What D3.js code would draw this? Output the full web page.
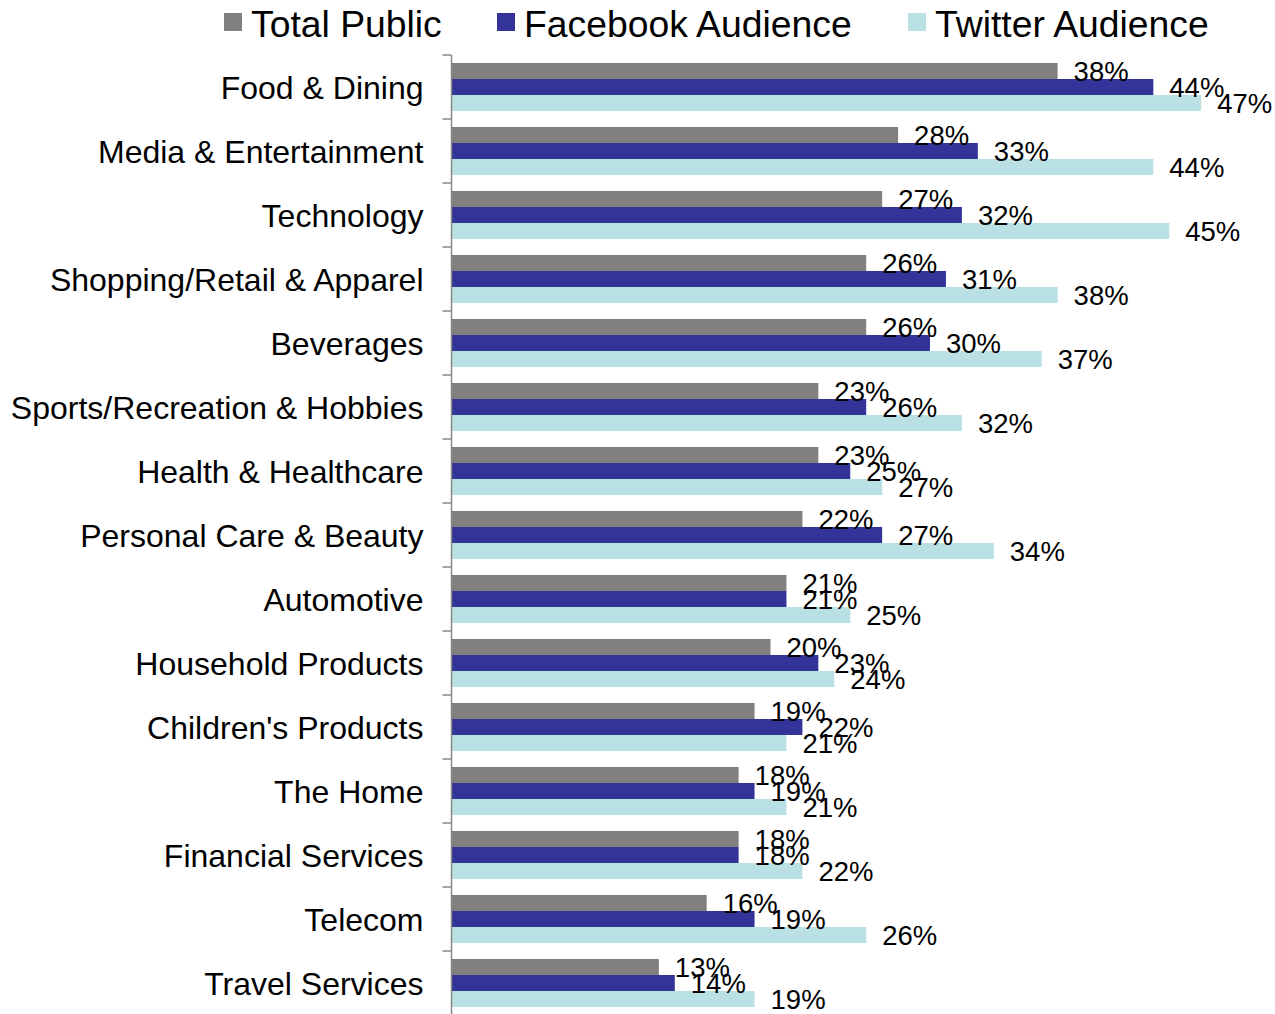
<!DOCTYPE html>
<html><head><meta charset="utf-8">
<script src="https://cdn.jsdelivr.net/npm/d3@7"></script>
<style>html,body{margin:0;padding:0;background:#fff;}svg{display:block;font-family:"Liberation Sans",Arial,sans-serif;}</style>
</head><body>
<svg id="c" width="1275" height="1014"></svg>
<script>
const categories = ["Food & Dining","Media & Entertainment","Technology","Shopping/Retail & Apparel","Beverages","Sports/Recreation & Hobbies","Health & Healthcare","Personal Care & Beauty","Automotive","Household Products","Children's Products","The Home","Financial Services","Telecom","Travel Services"];
const seriesNames = ["Total Public","Facebook Audience","Twitter Audience"];
const totalPublic = [38,28,27,26,26,23,23,22,21,20,19,18,18,16,13];
const facebookAudience = [44,33,32,31,30,26,25,27,21,23,22,19,18,19,14];
const twitterAudience = [47,44,45,38,37,32,27,34,25,24,21,21,22,26,19];
const seriesColors = ["#808080","#333399","#B9E0E3"];

const seriesValues = [totalPublic, facebookAudience, twitterAudience];
const svg = d3.select("#c");
const x0 = 451.5;
const x = d3.scaleLinear().domain([0,50]).range([x0, x0 + 50*15.95]);
const y = d3.scaleBand().domain(categories).range([55, 1015]).paddingInner(0).paddingOuter(0);
const ys = d3.scaleBand().domain(seriesNames).range([8, 56]);

// bars
const g = svg.append("g");
categories.forEach((c,i)=>{
  seriesNames.forEach((s,j)=>{
    const v = seriesValues[j][i];
    g.append("rect")
      .attr("x", x(0)).attr("y", y(c)+ys(s))
      .attr("width", x(v)-x(0)).attr("height", ys.bandwidth())
      .attr("fill", seriesColors[j]);
  });
});
// labels
categories.forEach((c,i)=>{
  seriesNames.forEach((s,j)=>{
    const v = seriesValues[j][i];
    g.append("text")
      .attr("x", x(v)+16).attr("y", y(c)+ys(s)+ys.bandwidth()/2 + 9.8)
      .attr("font-size", 27.5).attr("fill","#000")
      .text(v+"%");
  });
});

// axis
const axis = d3.axisLeft(y).tickSize(0).tickPadding(28);
const ag = svg.append("g").attr("transform",`translate(${x0},0)`).call(axis);
ag.select(".domain").attr("stroke","#888").attr("stroke-width",1.5).attr("d",`M0,55V1015`);
ag.selectAll(".tick text").attr("font-size",32).attr("fill","#000").attr("font-family","Liberation Sans, Arial, sans-serif").attr("dy","0.36em");
// band boundary ticks
const bounds = categories.map(c=>y(c)).concat([y.range()[1]]);
ag.selectAll(".btick").data(bounds).enter().append("line")
  .attr("x1",-9).attr("x2",0).attr("y1",d=>d).attr("y2",d=>d)
  .attr("stroke","#888").attr("stroke-width",1.5);

// legend
const legendX = [224, 497, 908];
const lg = svg.append("g");
seriesNames.forEach((s,j)=>{
  lg.append("rect").attr("x",legendX[j]).attr("y",13).attr("width",18).attr("height",18).attr("fill",seriesColors[j]);
  lg.append("text").attr("x",legendX[j]+27).attr("y",36.5).attr("font-size",37.3).attr("fill","#000").text(s);
});
</script>
</body></html>
